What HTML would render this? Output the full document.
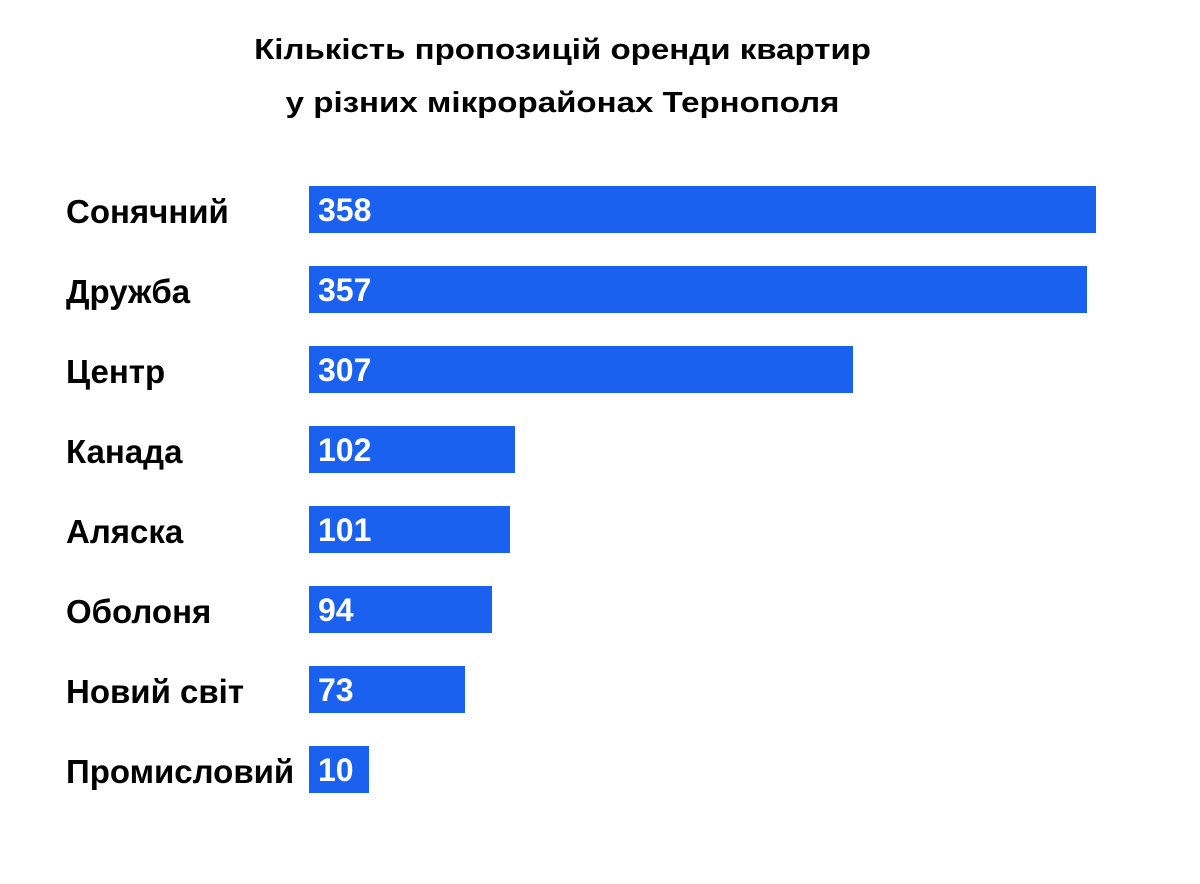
<!DOCTYPE html>
<html><head><meta charset="utf-8"><style>
body{margin:0;width:1200px;height:884px;background:#fff;font-family:"Liberation Sans",Arial,sans-serif;font-weight:bold;position:relative;overflow:hidden}
.t{position:absolute;left:0;width:1125px;text-align:center;font-size:29px;color:#000;transform:scaleX(1.14);transform-origin:562px 0}
.l{position:absolute;left:66px;font-size:33px;color:#000;line-height:47px;white-space:nowrap;margin-top:2px}
.b{position:absolute;left:309px;height:47px;background:#1b61ef}
.n{position:absolute;left:318px;color:#fff;font-size:32px;line-height:47px;margin-top:1px}
</style></head><body>
<div class="t" style="top:34px">Кількість пропозицій оренди квартир</div>
<div class="t" style="top:87px">у різних мікрорайонах Тернополя</div>
<div class="l" style="top:186px">Сонячний</div><div class="b" style="top:186px;width:787px"></div><div class="n" style="top:186px">358</div>
<div class="l" style="top:266px">Дружба</div><div class="b" style="top:266px;width:778px"></div><div class="n" style="top:266px">357</div>
<div class="l" style="top:346px">Центр</div><div class="b" style="top:346px;width:544px"></div><div class="n" style="top:346px">307</div>
<div class="l" style="top:426px">Канада</div><div class="b" style="top:426px;width:206px"></div><div class="n" style="top:426px">102</div>
<div class="l" style="top:506px">Аляска</div><div class="b" style="top:506px;width:201px"></div><div class="n" style="top:506px">101</div>
<div class="l" style="top:586px">Оболоня</div><div class="b" style="top:586px;width:183px"></div><div class="n" style="top:586px">94</div>
<div class="l" style="top:666px">Новий світ</div><div class="b" style="top:666px;width:156px"></div><div class="n" style="top:666px">73</div>
<div class="l" style="top:746px">Промисловий</div><div class="b" style="top:746px;width:60px"></div><div class="n" style="top:746px">10</div>
</body></html>
